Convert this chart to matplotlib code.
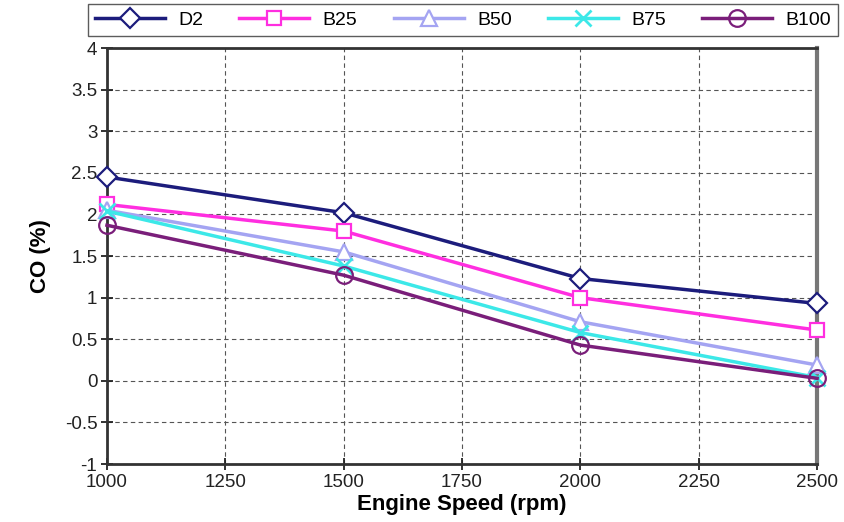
import matplotlib.pyplot as plt

plt.rcParams['font.family'] = ['Liberation Sans', 'DejaVu Sans']

# data
speed = [1000, 1500, 2000, 2500]
d2 = [2.45, 2.02, 1.23, 0.93]
b25 = [2.12, 1.80, 1.00, 0.61]
b50 = [2.05, 1.55, 0.71, 0.19]
b75 = [2.04, 1.38, 0.58, 0.04]
b100 = [1.87, 1.27, 0.43, 0.03]

names = ["D2", "B25", "B50", "B75", "B100"]
series = [d2, b25, b50, b75, b100]
colors = ["#1c1c7c", "#ff2ee0", "#a4a4f2", "#3ce8e8", "#7a1e7a"]
markers = ["D", "s", "^", "x", "o"]
msizes = [10, 10, 11, 11, 12]
fills = ["white", "white", "white", "none", "none"]

fig = plt.figure(figsize=(8.45, 5.22), dpi=100)
ax = fig.add_axes([0.1266, 0.111, 0.8404, 0.797])

for name, vals, c, m, ms, fc in zip(names, series, colors, markers, msizes, fills):
    if m == "x":
        ax.plot(speed, vals, color=c, lw=2.5, marker=m, ms=ms, mew=2,
                label=name, zorder=3, clip_on=False)
    else:
        ax.plot(speed, vals, color=c, lw=2.5, marker=m, ms=ms, mew=1.6,
                mfc=fc, mec=c, label=name, zorder=3, clip_on=False)

ax.set_xlim(1000, 2500)
ax.set_ylim(-1, 4)
ax.set_xticks(range(1000, 2501, 250))
ax.set_yticks([-1 + 0.5 * i for i in range(11)])
ax.set_yticklabels(["-1", "-0.5", "0", "0.5", "1", "1.5", "2", "2.5", "3", "3.5", "4"])
ax.tick_params(direction="inout", length=8, width=1.3, labelsize=13.5,
               colors="#222222", pad=3)
ax.grid(True, ls=(0, (4, 3)), color="#555555", lw=0.8)
for s in ax.spines.values():
    s.set_linewidth(2)
    s.set_color("#333333")
ax.spines["right"].set_color("#777777")
ax.spines["right"].set_linewidth(3)

ax.set_xlabel("Engine Speed (rpm)", fontsize=16, fontweight="bold", labelpad=2)
ax.set_ylabel("CO (%)", fontsize=16, fontweight="bold", labelpad=10)

fig.legend(loc="center", ncol=5,
           bbox_to_anchor=(463 / 845, 1 - 20 / 522),
           frameon=True, fancybox=False, edgecolor="#333333", fontsize=14,
           handlelength=3.6, borderpad=0.35, handletextpad=0.7,
           columnspacing=1.85, borderaxespad=0)

fig.savefig("out.png", dpi=100)
